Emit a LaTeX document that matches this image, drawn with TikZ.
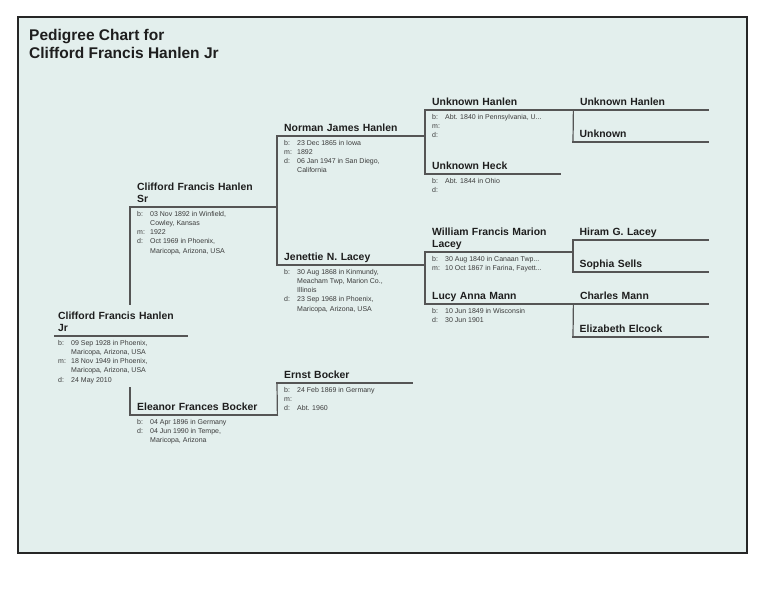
\documentclass[tikz,border=0pt]{standalone}
\usepackage{fontspec}
\setmainfont{Liberation Sans}
\usepackage{tikz}
\usetikzlibrary{positioning}
\definecolor{paper}{RGB}{227,239,237}
\definecolor{namegray}{RGB}{30,30,30}
\definecolor{factgray}{RGB}{60,60,60}
\definecolor{linegray}{RGB}{85,85,85}
\newcommand\ev[2]{\makebox[13pt][l]{#1:}#2}
\newcommand\cont{\hspace*{13pt}}
\tikzset{
x=1pt, y=-1pt, % one unit is one pixel, origin top left
person/.style={anchor=south west, align=left, text width=#1, inner xsep=7pt, inner ysep=1.5pt, text depth=2.5pt, text=namegray, font=\bfseries\fontsize{10.4}{12}\selectfont}, % name sitting on its line
twoline/.style={text depth=14.5pt}, % name wrapped onto a second line
facts/.style={anchor=north west, align=left, inner xsep=7pt, inner ysep=4pt, text=factgray, font=\fontsize{7}{9.2}\selectfont}, % dates under the line
branch/.style={draw=linegray, line width=1.2pt, line cap=rect}, % lines of the chart
title/.style={anchor=north west, align=left, inner sep=0pt, text=namegray, font=\bfseries\fontsize{15.5}{18}\selectfont}, % heading
}

\begin{document}
\begin{tikzpicture}
\useasboundingbox (0,0) rectangle (764,590);
\draw[fill=paper, draw=black!85, line width=1.8pt] (18,17) rectangle (747,553);

\node[title] (title) at (29,29) {Pedigree Chart for\\Clifford Francis Hanlen Jr};

% generation 1 and 2
\node[person=126, twoline, inner xsep=3pt] (jr) at (55,336) {Clifford Francis Hanlen\\Jr};
\node[facts, inner xsep=3pt] (jrinfo) at (jr.south west) {\ev{b}{09 Sep 1928 in Phoenix,}\\\cont Maricopa, Arizona, USA\\\ev{m}{18 Nov 1949 in Phoenix,}\\\cont Maricopa, Arizona, USA\\\ev{d}{24 May 2010}};
\node[person=133, twoline] (sr) at (130,207) {Clifford Francis Hanlen\\Sr};
\node[facts] (srinfo) at (sr.south west) {\ev{b}{03 Nov 1892 in Winfield,}\\\cont Cowley, Kansas\\\ev{m}{1922}\\\ev{d}{Oct 1969 in Phoenix,}\\\cont Maricopa, Arizona, USA};
\node[person=133] (eleanor) at (130,415) {Eleanor Frances Bocker};
\node[facts] (eleanorinfo) at (eleanor.south west) {\ev{b}{04 Apr 1896 in Germany}\\\ev{d}{04 Jun 1990 in Tempe,}\\\cont Maricopa, Arizona};

% generation 3
\node[person=134] (norman) at (277,136) {Norman James Hanlen};
\node[facts] (normaninfo) at (norman.south west) {\ev{b}{23 Dec 1865 in Iowa}\\\ev{m}{1892}\\\ev{d}{06 Jan 1947 in San Diego,}\\\cont California};
\node[person=134] (jenettie) at (277,265) {Jenettie N. Lacey};
\node[facts] (jenettieinfo) at (jenettie.south west) {\ev{b}{30 Aug 1868 in Kinmundy,}\\\cont Meacham Twp, Marion Co.,\\\cont Illinois\\\ev{d}{23 Sep 1968 in Phoenix,}\\\cont Maricopa, Arizona, USA};
\node[person=121] (ernst) at (277,383) {Ernst Bocker};
\node[facts] (ernstinfo) at (ernst.south west) {\ev{b}{24 Feb 1869 in Germany}\\\ev{m}{}\\\ev{d}{Abt. 1960}};

% generation 4
\node[person=134] (uhanlen) at (425,110) {Unknown Hanlen};
\node[facts] (uhanleninfo) at (uhanlen.south west) {\ev{b}{Abt. 1840 in Pennsylvania, U...}\\\ev{m}{}\\\ev{d}{}};
\node[person=121] (uheck) at (425,174) {Unknown Heck};
\node[facts] (uheckinfo) at (uheck.south west) {\ev{b}{Abt. 1844 in Ohio}\\\ev{d}{}};
\node[person=134, twoline] (william) at (425,252) {William Francis Marion\\Lacey};
\node[facts] (williaminfo) at (william.south west) {\ev{b}{30 Aug 1840 in Canaan Twp...}\\\ev{m}{10 Oct 1867 in Farina, Fayett...}};
\node[person=134] (lucy) at (425,304) {Lucy Anna Mann};
\node[facts] (lucyinfo) at (lucy.south west) {\ev{b}{10 Jun 1849 in Wisconsin}\\\ev{d}{30 Jun 1901}};

% generation 5
\node[person=122, inner xsep=6.5pt] (uhanlenb) at (uhanlen.south east) {Unknown Hanlen};
\node[person=122, inner xsep=6.5pt] (unknown) at (573,142) {Unknown};
\node[person=122, inner xsep=6.5pt] (hiram) at (573,240) {Hiram G. Lacey};
\node[person=122, inner xsep=6.5pt] (sophia) at (573,272) {Sophia Sells};
\node[person=122, inner xsep=6.5pt] (charles) at (lucy.south east) {Charles Mann};
\node[person=122, inner xsep=6.5pt] (elizabeth) at (573,337) {Elizabeth Elcock};

\foreach \p in {jr,sr,eleanor,norman,jenettie,ernst,uhanlen,uheck,william,lucy,uhanlenb,unknown,hiram,sophia,charles,elizabeth}
  \draw[branch] (\p.south west) -- (\p.south east);

\draw[branch] (sr.south west) -- ([yshift=6pt]sr.south west |- jr.north);
\draw[branch] (jrinfo.south -| eleanor.south west) -- (eleanor.south west);
\draw[branch] (norman.south west) -- (jenettie.south west);
\draw[branch] (ernst.south west) -- (eleanor.south east);
\draw[branch] (uhanlen.south west) -- (uheck.south west);
\draw[branch] (william.south west) -- (lucy.south west);
\draw[branch] (uhanlenb.south west) -- (unknown.south west);
\draw[branch] (hiram.south west) -- (sophia.south west);
\draw[branch] (charles.south west) -- (elizabeth.south west);
\end{tikzpicture}
\end{document}
